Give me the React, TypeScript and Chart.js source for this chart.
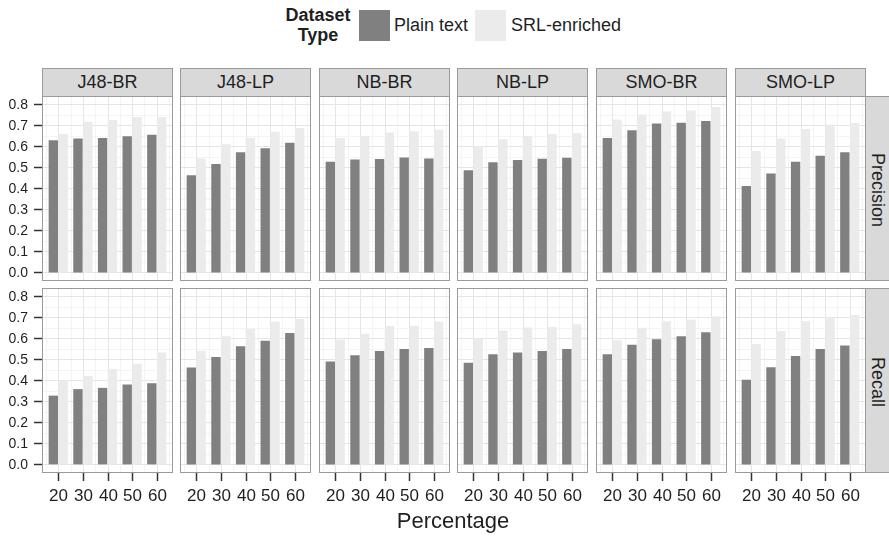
import React, { useEffect, useRef } from "react";
import { Chart, registerables } from "chart.js";

Chart.register(...registerables);

const PERCENTAGES = [20, 30, 40, 50, 60];
const CLASSIFIERS = ["J48-BR", "J48-LP", "NB-BR", "NB-LP", "SMO-BR", "SMO-LP"];
const METRICS = ["Precision", "Recall"];
const SERIES_NAMES = ["Plain text", "SRL-enriched"];

// one row per classifier, values for 20..60 %
const PRECISION_PLAIN = [
  [0.629, 0.637, 0.639, 0.647, 0.655],
  [0.462, 0.515, 0.571, 0.591, 0.617],
  [0.526, 0.537, 0.539, 0.547, 0.542],
  [0.486, 0.524, 0.534, 0.540, 0.545],
  [0.639, 0.676, 0.708, 0.712, 0.720],
  [0.411, 0.470, 0.526, 0.555, 0.572],
];
const PRECISION_SRL = [
  [0.658, 0.717, 0.725, 0.739, 0.739],
  [0.542, 0.610, 0.641, 0.669, 0.687],
  [0.639, 0.649, 0.665, 0.671, 0.679],
  [0.601, 0.633, 0.649, 0.658, 0.663],
  [0.727, 0.751, 0.765, 0.770, 0.787],
  [0.577, 0.637, 0.682, 0.703, 0.711],
];
const RECALL_PLAIN = [
  [0.327, 0.358, 0.364, 0.380, 0.386],
  [0.461, 0.511, 0.562, 0.588, 0.625],
  [0.489, 0.519, 0.539, 0.549, 0.554],
  [0.483, 0.524, 0.532, 0.539, 0.549],
  [0.524, 0.569, 0.595, 0.609, 0.628],
  [0.402, 0.462, 0.516, 0.549, 0.566],
];
const RECALL_SRL = [
  [0.401, 0.421, 0.454, 0.479, 0.532],
  [0.539, 0.610, 0.644, 0.678, 0.692],
  [0.593, 0.621, 0.658, 0.659, 0.680],
  [0.599, 0.637, 0.651, 0.653, 0.667],
  [0.591, 0.650, 0.681, 0.688, 0.705],
  [0.573, 0.634, 0.681, 0.700, 0.710],
];

const X_MAJOR = [20, 30, 40, 50, 60];
const X_MINOR = [15, 25, 35, 45, 55, 65];
const Y_MAJOR = [0, 0.1, 0.2, 0.3, 0.4, 0.5, 0.6, 0.7, 0.8];
const Y_MINOR = [0.05, 0.15, 0.25, 0.35, 0.45, 0.55, 0.65, 0.75];
const Y_LABELS = ["0.0", "0.1", "0.2", "0.3", "0.4", "0.5", "0.6", "0.7", "0.8"];

const DARK = "#808080";
const LIGHT = "#EBEBEB";
const FONT = '"Liberation Sans", Arial, Helvetica, sans-serif';
const TEXT = "#1f1f1f";

const PANEL_LEFT = [42, 180, 319, 457, 596, 735];
const PANEL_W = 131;
const PANEL_TOP = [96, 288];
const PANEL_H = 185;

const facetPlugin = {
  id: "facetDecor",
  beforeDatasetsDraw(chart: any) {
    const { ctx, chartArea: a, scales } = chart;
    const x = scales.x;
    const y = scales.y;
    ctx.save();
    ctx.lineWidth = 1;
    const vline = (v: number, color: string) => {
      const px = Math.round(x.getPixelForValue(v)) + 0.5;
      if (px < a.left || px > a.right) return;
      ctx.strokeStyle = color;
      ctx.beginPath();
      ctx.moveTo(px, a.top);
      ctx.lineTo(px, a.bottom);
      ctx.stroke();
    };
    const hline = (v: number, color: string) => {
      const py = Math.round(y.getPixelForValue(v)) + 0.5;
      if (py < a.top || py > a.bottom) return;
      ctx.strokeStyle = color;
      ctx.beginPath();
      ctx.moveTo(a.left, py);
      ctx.lineTo(a.right, py);
      ctx.stroke();
    };
    X_MINOR.forEach((v) => vline(v, "#f4f4f4"));
    Y_MINOR.forEach((v) => hline(v, "#f4f4f4"));
    X_MAJOR.forEach((v) => vline(v, "#e5e5e5"));
    Y_MAJOR.forEach((v) => hline(v, "#e5e5e5"));
    ctx.restore();
  },
  afterDraw(chart: any) {
    const { ctx, chartArea: a, scales } = chart;
    const opts = chart.options.plugins.facetDecor || {};
    ctx.save();
    // panel border
    ctx.strokeStyle = "#9a9a9a";
    ctx.lineWidth = 1;
    ctx.strokeRect(
      Math.round(a.left) + 0.5,
      Math.round(a.top) + 0.5,
      Math.round(a.right - a.left) - 1,
      Math.round(a.bottom - a.top) - 1
    );
    ctx.fillStyle = TEXT;
    ctx.strokeStyle = "#333333";
    ctx.lineWidth = 1.5;
    if (opts.yLabels) {
      ctx.font = `14px ${FONT}`;
      ctx.textAlign = "right";
      ctx.textBaseline = "middle";
      Y_MAJOR.forEach((v, i) => {
        const py = Math.round(scales.y.getPixelForValue(v)) + 0.5;
        ctx.beginPath();
        ctx.moveTo(a.left - 8, py);
        ctx.lineTo(a.left, py);
        ctx.stroke();
        ctx.fillText(Y_LABELS[i], a.left - 14, py + 0.5);
      });
    }
    if (opts.xLabels) {
      ctx.font = `17px ${FONT}`;
      ctx.textAlign = "center";
      ctx.textBaseline = "alphabetic";
      X_MAJOR.forEach((v) => {
        const px = Math.round(scales.x.getPixelForValue(v)) + 0.5;
        ctx.beginPath();
        ctx.moveTo(px, a.bottom);
        ctx.lineTo(px, a.bottom + 8);
        ctx.stroke();
        ctx.fillText(String(v), px, a.bottom + 27.5);
      });
    }
    ctx.restore();
  },
};

function Panel({ r, c }: { r: number; c: number }) {
  const ref = useRef<HTMLCanvasElement | null>(null);
  const yAxisW = c === 0 ? PANEL_LEFT[0] : 0;
  const xAxisH = r === 1 ? 40 : 0;
  const left = c === 0 ? 0 : PANEL_LEFT[c];
  const width = yAxisW + PANEL_W;
  const height = PANEL_H + xAxisH;

  useEffect(() => {
    if (!ref.current) return;
    const plain = r === 0 ? PRECISION_PLAIN[c] : RECALL_PLAIN[c];
    const srl = r === 0 ? PRECISION_SRL[c] : RECALL_SRL[c];
    const chart = new Chart(ref.current, {
      type: "bar",
      data: {
        datasets: [
          {
            label: SERIES_NAMES[0],
            data: PERCENTAGES.map((p, i) => ({ x: p, y: plain[i] })),
            backgroundColor: DARK,
            borderWidth: 0,
            categoryPercentage: 0.8,
            barPercentage: 0.95,
          },
          {
            label: SERIES_NAMES[1],
            data: PERCENTAGES.map((p, i) => ({ x: p, y: srl[i] })),
            backgroundColor: LIGHT,
            borderWidth: 0,
            categoryPercentage: 0.8,
            barPercentage: 0.95,
          },
        ],
      },
      options: {
        animation: false,
        responsive: false,
        devicePixelRatio: 1,
        layout: { padding: { left: yAxisW, bottom: xAxisH, top: 0, right: 0 } },
        plugins: {
          legend: { display: false },
          tooltip: { enabled: false },
          facetDecor: { yLabels: c === 0, xLabels: r === 1 },
        },
        scales: {
          x: {
            type: "linear",
            display: false,
            offset: false,
            min: 13.4,
            max: 66.6,
            afterBuildTicks: (s: any) => {
              s.ticks = X_MAJOR.map((v) => ({ value: v }));
            },
          },
          y: {
            type: "linear",
            display: false,
            min: -0.041,
            max: 0.839,
          },
        },
      } as any,
      plugins: [facetPlugin],
    });
    return () => chart.destroy();
  }, [r, c]);

  return (
    <canvas
      ref={ref}
      width={width}
      height={height}
      style={{
        position: "absolute",
        left,
        top: PANEL_TOP[r],
        width,
        height,
        display: "block",
      }}
    />
  );
}

export default function App() {
  const panels = [];
  for (let r = 0; r < 2; r++)
    for (let c = 0; c < 6; c++) panels.push(<Panel key={`${r}-${c}`} r={r} c={c} />);

  return (
    <div
      style={{
        position: "absolute",
        left: 0,
        top: 0,
        width: 889,
        height: 536,
        overflow: "hidden",
        background: "#ffffff",
        fontFamily: FONT,
        color: TEXT,
      }}
    >
      {/* legend */}
      <div
        style={{
          position: "absolute",
          left: 278,
          top: 5,
          width: 80,
          textAlign: "center",
          fontWeight: "bold",
          fontSize: 18,
          lineHeight: "20px",
        }}
      >
        Dataset
        <br />
        Type
      </div>
      <div style={{ position: "absolute", left: 359, top: 10, width: 31, height: 31, background: DARK }} />
      <div style={{ position: "absolute", left: 394, top: 14, fontSize: 18, lineHeight: "22px", whiteSpace: "nowrap" }}>
        {SERIES_NAMES[0]}
      </div>
      <div style={{ position: "absolute", left: 475, top: 10, width: 31, height: 31, background: LIGHT }} />
      <div style={{ position: "absolute", left: 511, top: 14, fontSize: 18, lineHeight: "22px", whiteSpace: "nowrap" }}>
        {SERIES_NAMES[1]}
      </div>

      {/* column strips */}
      {CLASSIFIERS.map((name, c) => (
        <div
          key={name}
          style={{
            position: "absolute",
            left: PANEL_LEFT[c],
            top: 68,
            width: PANEL_W,
            height: 29,
            boxSizing: "border-box",
            border: "1px solid #9a9a9a",
            background: "#d9d9d9",
            fontSize: 18,
            lineHeight: "27px",
            textAlign: "center",
          }}
        >
          {name}
        </div>
      ))}

      {/* row strips */}
      {METRICS.map((m, r) => (
        <div
          key={m}
          style={{
            position: "absolute",
            left: 865,
            top: PANEL_TOP[r],
            width: 40,
            height: PANEL_H,
            boxSizing: "border-box",
            border: "1px solid #9a9a9a",
            background: "#d9d9d9",
          }}
        >
          <div style={{ position: "absolute", left: 12, top: PANEL_H / 2, width: 0, height: 0 }}>
            <div
              style={{
                position: "absolute",
                left: -100,
                top: -11,
                width: 200,
                textAlign: "center",
                fontSize: 18,
                lineHeight: "22px",
                transform: "rotate(90deg)",
                transformOrigin: "100px 11px",
              }}
            >
              {m}
            </div>
          </div>
        </div>
      ))}

      {panels}

      {/* x-axis title */}
      <div
        style={{
          position: "absolute",
          left: 353,
          top: 508,
          width: 200,
          textAlign: "center",
          fontSize: 22,
          lineHeight: "26px",
        }}
      >
        Percentage
      </div>
    </div>
  );
}
